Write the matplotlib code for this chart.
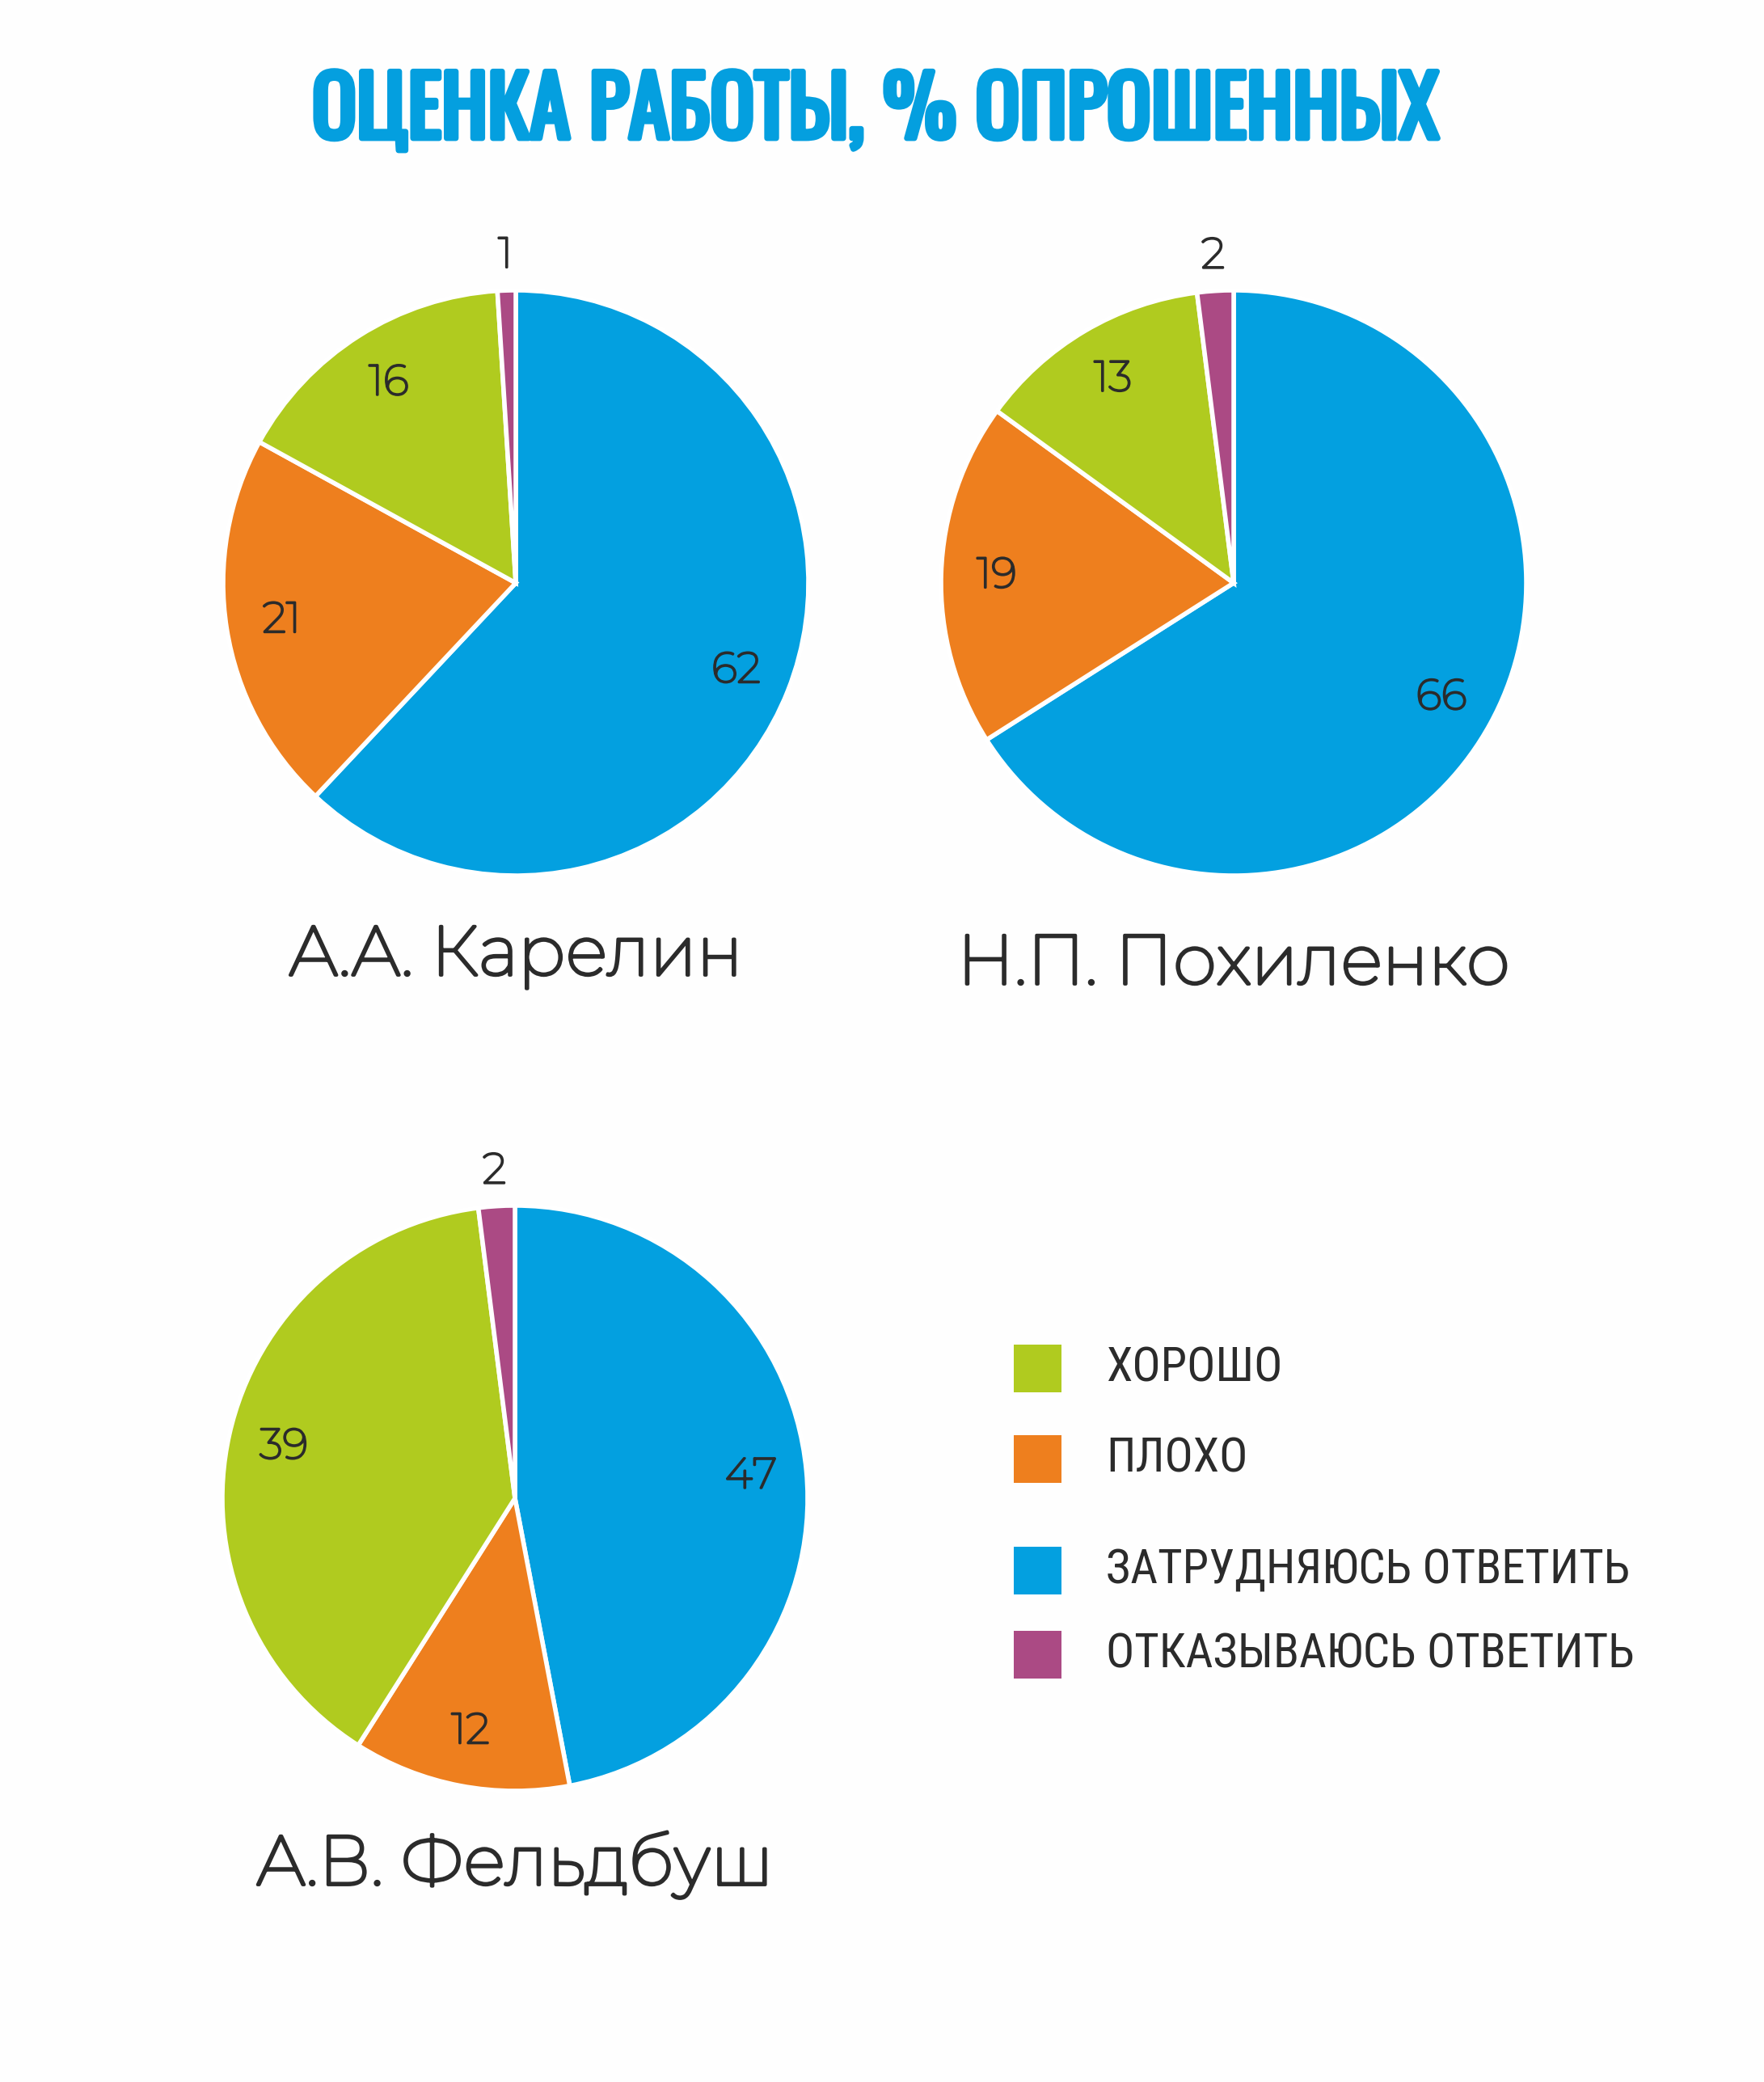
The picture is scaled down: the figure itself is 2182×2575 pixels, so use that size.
import matplotlib
matplotlib.use("Agg")
import matplotlib.pyplot as plt
from matplotlib.patches import Rectangle
from matplotlib import font_manager as fm
import matplotlib.patheffects as pe
import numpy as np

W, H = 2182, 2575
DPI = 100

title = "ОЦЕНКА РАБОТЫ, % ОПРОШЕННЫХ"
categories = ["ХОРОШО", "ПЛОХО", "ЗАТРУДНЯЮСЬ ОТВЕТИТЬ", "ОТКАЗЫВАЮСЬ ОТВЕТИТЬ"]
colors = {"ХОРОШО": "#B0CB1F", "ПЛОХО": "#EE7F1E",
          "ЗАТРУДНЯЮСЬ ОТВЕТИТЬ": "#03A0E0", "ОТКАЗЫВАЮСЬ ОТВЕТИТЬ": "#AB4A84"}

# pie order (clockwise from 12 o'clock)
pie_order = ["ЗАТРУДНЯЮСЬ ОТВЕТИТЬ", "ПЛОХО", "ХОРОШО", "ОТКАЗЫВАЮСЬ ОТВЕТИТЬ"]

names = ["А.А. Карелин", "Н.П. Похиленко", "А.В. Фельдбуш"]
karelin = [62, 21, 16, 1]
pokhilenko = [66, 19, 13, 2]
feldbush = [47, 12, 39, 2]
series = [karelin, pokhilenko, feldbush]

# layout (pixels)
centers = [(638, 721), (1526, 721), (637, 1853)]
radius = 362
name_baselines = [1206, 1217, 2331]


def pick(families, weight):
    for fam in families:
        c = [f for f in fm.fontManager.ttflist if f.name == fam and f.style == "normal"]
        if c:
            best = min(c, key=lambda f: abs(int(f.weight) - weight))
            return fm.FontProperties(fname=best.fname), int(best.weight)
    return fm.FontProperties(family="DejaVu Sans"), 400


title_fp, title_w = pick(["Oswald", "Roboto Condensed"], 700)
main_fp, main_w = pick(["Montserrat", "Open Sans"], 400)
leg_fp, leg_w = pick(["Roboto Condensed", "PT Sans Narrow", "Arimo"], 400)

fig = plt.figure(figsize=(W / DPI, H / DPI), dpi=DPI)
fig.patch.set_facecolor("#FEFEFE")
renderer = fig.canvas.get_renderer()


def fit(t, target_w):
    for _ in range(3):
        w = t.get_window_extent(renderer).width
        t.set_fontsize(t.get_fontsize() * target_w / w)


def thicken(t, base_w, want_w, k):
    if base_w < want_w - 100:
        lw = t.get_fontsize() * k * (want_w - base_w) / 300.0
        t.set_path_effects([pe.withStroke(linewidth=lw, foreground=t.get_color()), pe.Normal()])


txt_color = "#2B2B2B"

tt = fig.text(1082 / W, 1 - 171 / H, title, ha="center", va="baseline",
              color="#049FDF", fontproperties=title_fp)
tt.set_fontsize(80)
fit(tt, 1392)
thicken(tt, title_w, 800, 0.05)

name_texts = []
for (cx, cy), vals, name, nb in zip(centers, series, names, name_baselines):
    ax = fig.add_axes([(cx - radius) / W, 1 - (cy + radius) / H,
                       2 * radius / W, 2 * radius / H])
    wedges, _ = ax.pie(vals, colors=[colors[c] for c in pie_order],
                       startangle=90, counterclock=False, radius=1,
                       wedgeprops=dict(edgecolor="white", linewidth=4))
    ax.set_xlim(-1, 1)
    ax.set_ylim(-1, 1)
    ax.set_aspect("equal")
    ax.axis("off")
    for w, v, c in zip(wedges, vals, pie_order):
        ang = np.deg2rad((w.theta1 + w.theta2) / 2)
        d = 1.12 if c == "ОТКАЗЫВАЮСЬ ОТВЕТИТЬ" else 0.81
        lt = ax.text(d * np.cos(ang), d * np.sin(ang), str(v), ha="center",
                     va="center", color=txt_color, fontproperties=main_fp)
        lt.set_fontsize(38)
        thicken(lt, main_w, 400, 0.05)
    nt = fig.text(cx / W, 1 - nb / H, name, ha="center", va="baseline",
                  color=txt_color, fontproperties=main_fp)
    nt.set_fontsize(60)
    name_texts.append(nt)

fit(name_texts[0], 562)
for t in name_texts:
    t.set_fontsize(name_texts[0].get_fontsize())
    thicken(t, main_w, 400, 0.045)

# legend
leg_y = [1692, 1804, 1942, 2046]
sq = 59
sq_x = 1254
leg_texts = []
for cat, y in zip(categories, leg_y):
    fig.patches.append(Rectangle((sq_x / W, 1 - (y + sq / 2) / H), sq / W, sq / H,
                                 transform=fig.transFigure, facecolor=colors[cat],
                                 edgecolor="none"))
    lt = fig.text(1368 / W, 1 - y / H, cat, ha="left", va="center",
                  color=txt_color, fontproperties=leg_fp)
    lt.set_fontsize(38)
    leg_texts.append(lt)
fit(leg_texts[2], 648)
for t in leg_texts:
    t.set_fontsize(leg_texts[2].get_fontsize())

fig.savefig("out.png", dpi=DPI, facecolor=fig.get_facecolor())
